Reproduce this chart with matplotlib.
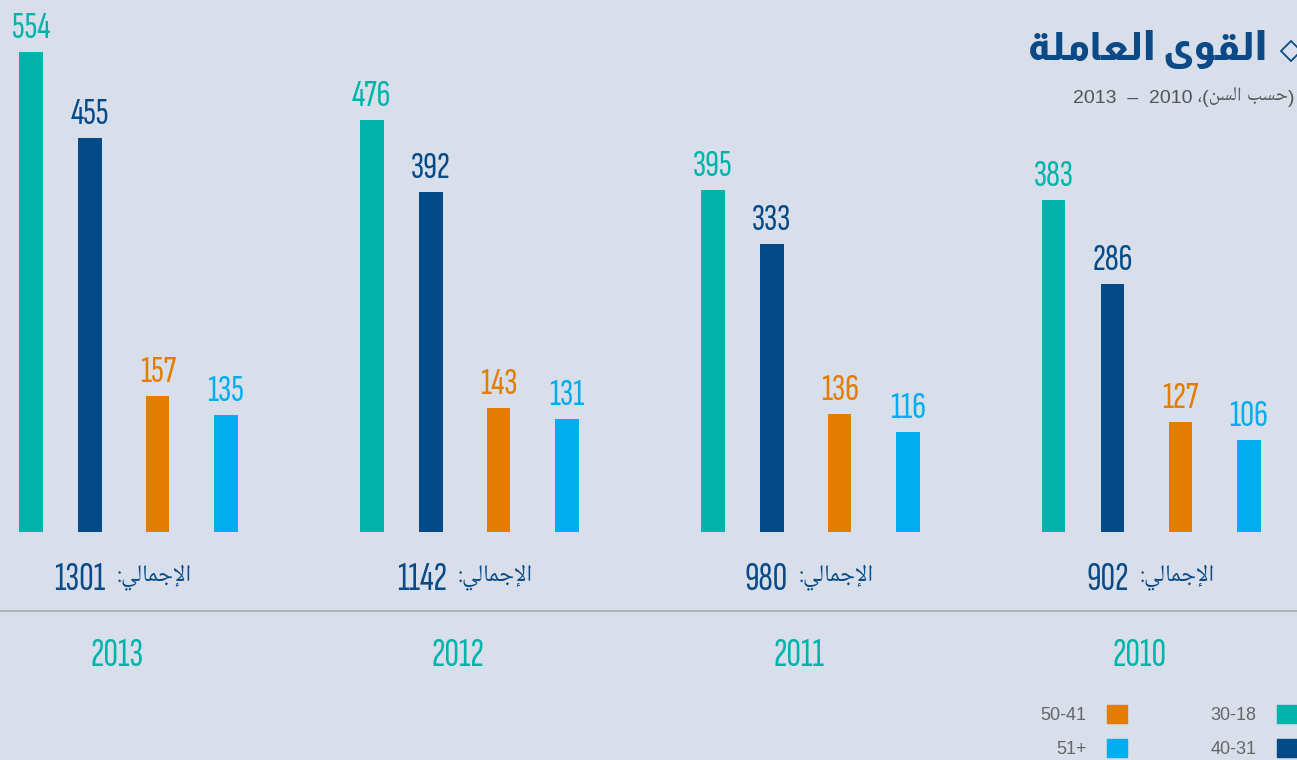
import matplotlib.pyplot as plt
from matplotlib.patches import Patch

# data (groups run 2013 -> 2010, left to right)
years = ['2013', '2012', '2011', '2010']
age_labels = ['30-18', '40-31', '50-41', '51+']
age_18_30 = [554, 476, 395, 383]
age_31_40 = [455, 392, 333, 286]
age_41_50 = [157, 143, 136, 127]
age_51_up = [135, 131, 116, 106]

colors = ['#00b4ac', '#034b88', '#e27d00', '#00aeef']
bg = '#d8dfeb'
navy = '#0b4a86'

# matplotlib does no arabic shaping, so the strings are written in
# presentation forms and in visual (left to right) order
title = '\uFE94\uFEE0\uFEE3\uFE8E\uFECC\uFEDF\uFE8D \uFEEF\uFEEE\uFED8\uFEDF\uFE8D'   # القوى العاملة
subtitle = '2013  \u2013  2010 \u060C(\uFEE6\uFEB4\uFEDF\uFE8D \uFE90\uFEB4\uFEA3)'  # (حسب السن)، 2010 – 2013
total_word = ':\uFEF2\uFEDF\uFE8E\uFEE4\uFE9F\uFEF9\uFE8D'                           # الإجمالي:

num_font = ['Sofia Sans Extra Condensed', 'DejaVu Sans']
naskh = ['Noto Naskh Arabic UI', 'DejaVu Sans']

fig = plt.figure(figsize=(12.97, 7.6), dpi=100, facecolor=bg)
ax = fig.add_axes([0, 0, 1, 1])
ax.set_facecolor(bg)
ax.axis('off')
ax.set_xlim(-0.091, 3.713)
ax.set_ylim(-263, 614)

series = [age_18_30, age_31_40, age_41_50, age_51_up]
offsets = [0, 0.173, 0.372, 0.572]
width = 0.068
for vals, off, c in zip(series, offsets, colors):
    xs = [i + off for i in range(len(years))]
    bars = ax.bar(xs, vals, width, color=c)
    for b, v in zip(bars, vals):
        ax.annotate(str(v), (b.get_x() + b.get_width() / 2, v), xytext=(0, 10),
                    textcoords='offset points', ha='center', va='baseline',
                    color=c, fontsize=28, family=num_font)

# totals and year labels under each group
tr = ax.get_xaxis_transform()
for i, yr in enumerate(years):
    total = sum(s[i] for s in series)
    cx = i + 0.285
    ax.text(cx - 0.066, 0.224, str(total), transform=tr, ha='right', va='baseline',
            color=navy, fontsize=29, family=num_font)
    ax.text(cx + 0.186, 0.232, total_word, transform=tr, ha='right', va='baseline',
            color=navy, fontsize=17, family=naskh)
    ax.text(cx - 0.033, 0.124, yr, transform=tr, ha='center', va='baseline',
            color=colors[0], fontsize=29, family=num_font)

ax.plot([0, 1], [0.196, 0.196], transform=ax.transAxes, color='#aeb2b9', lw=1.5)

# title block, top right
fig.text(0.9777, 0.921, title, ha='right', va='baseline', fontsize=28,
         fontweight=800, color=navy, family=['Almarai', 'DejaVu Sans'])
fig.text(0.9977, 0.8645, subtitle, ha='right', va='baseline', fontsize=14,
         color='#555555', family=['Liberation Sans', 'Noto Naskh Arabic UI'])
ax.plot([0.9954], [0.933], marker='D', markersize=10, markerfacecolor='none',
        markeredgecolor=navy, markeredgewidth=1.3, transform=fig.transFigure,
        clip_on=False)

# legend: columns are filled top-down, right column holds the first two groups
order = [2, 3, 0, 1]
handles = [Patch(color=colors[k]) for k in order]
labels = [age_labels[k] for k in order]
fig.legend(handles, labels, ncol=2, markerfirst=False, loc='upper right',
           bbox_to_anchor=(1.0, 0.072), frameon=False,
           handlelength=1.1, handleheight=1.1, handletextpad=1.15,
           columnspacing=4.6, labelspacing=0.85, borderpad=0, borderaxespad=0,
           labelcolor='#666666', prop={'family': 'Liberation Sans', 'size': 13})

fig.savefig('out.png', dpi=100, facecolor=bg)
